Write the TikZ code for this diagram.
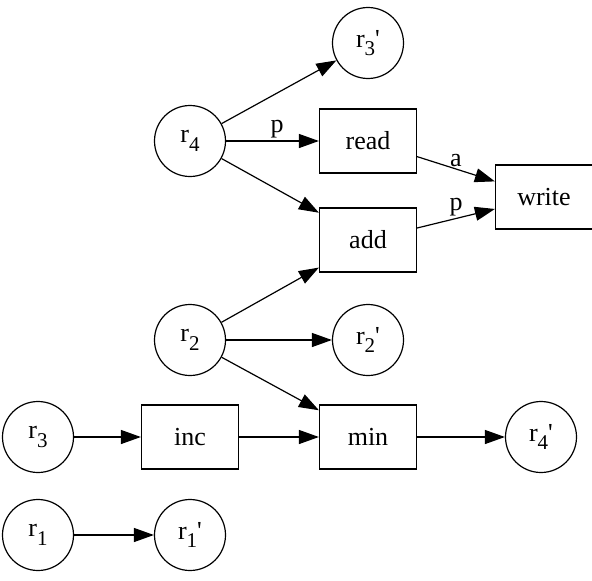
\documentclass[tikz,border=0pt]{standalone}
\usepackage{fontspec}
\setmainfont{Liberation Serif}
\usepackage{tikz}
\usetikzlibrary{arrows.meta,shapes,positioning}

\newcommand{\reg}[2]{r\raisebox{-0.32em}{\fontsize{21}{24}\selectfont #1}#2}
\newcommand{\pr}{\textquotesingle}

\begin{document}
\begin{tikzpicture}[
        x=1pt, y=-1pt,
        on grid,
        every node/.style={draw, line width=1.2pt, font=\fontsize{26}{29}\selectfont},
        every path/.style={line width=1.2pt},
        regnode/.style={circle, minimum size=71pt, inner sep=0pt},
        opnode/.style={rectangle, minimum width=97pt, minimum height=64pt},
        lbl/.style={draw=none, font=\fontsize{26}{29}\selectfont, inner sep=2pt},
        flow/.style={-{Triangle[length=20pt,width=14pt]}}
    ]
    \useasboundingbox (0,0) rectangle (592,581);

    % Nodes
    \node[regnode] (r3) at (38,437) {\reg{3}{}};
    \node[opnode] (inc)[right=152pt of r3] {inc};
    \node[opnode] (min)[right=178pt of inc] {min};
    \node[regnode] (r4p)[right=173pt of min] {\reg{4}{\pr}};

    \node[regnode] (r1)[below=98pt of r3] {\reg{1}{}};
    \node[regnode] (r1p)[right=152pt of r1] {\reg{1}{\pr}};

    \node[regnode] (r2)[above=97pt of inc] {\reg{2}{}};
    \node[regnode] (r2p)[right=178pt of r2] {\reg{2}{\pr}};

    \node[opnode] (add)[above=100pt of r2p] {add};
    \node[opnode] (read)[above=99pt of add] {read};
    \node[regnode] (r4)[left=178pt of read] {\reg{4}{}};
    \node[regnode] (r3p)[above=98pt of read] {\reg{3}{\pr}};
    \node[opnode] (write)[right=176pt of read, yshift=-56pt] {write};

    % Edges
    \draw[flow] (r4) -- (r3p);
    \draw[flow] (r4) -- node[lbl, above, pos=0.55] {p} (read);
    \draw[flow] (r4) -- (add);
    \draw[flow] (read) -- node[lbl, above, pos=0.5] {a} (write);
    \draw[flow] (add) -- node[lbl, above, pos=0.5] {p} (write);
    \draw[flow] (r2) -- (add);
    \draw[flow] (r2) -- (r2p);
    \draw[flow] (r2) -- (min);
    \draw[flow] (r3) -- (inc);
    \draw[flow] (inc) -- (min);
    \draw[flow] (min) -- (r4p);
    \draw[flow] (r1) -- (r1p);

\end{tikzpicture}
\end{document}
